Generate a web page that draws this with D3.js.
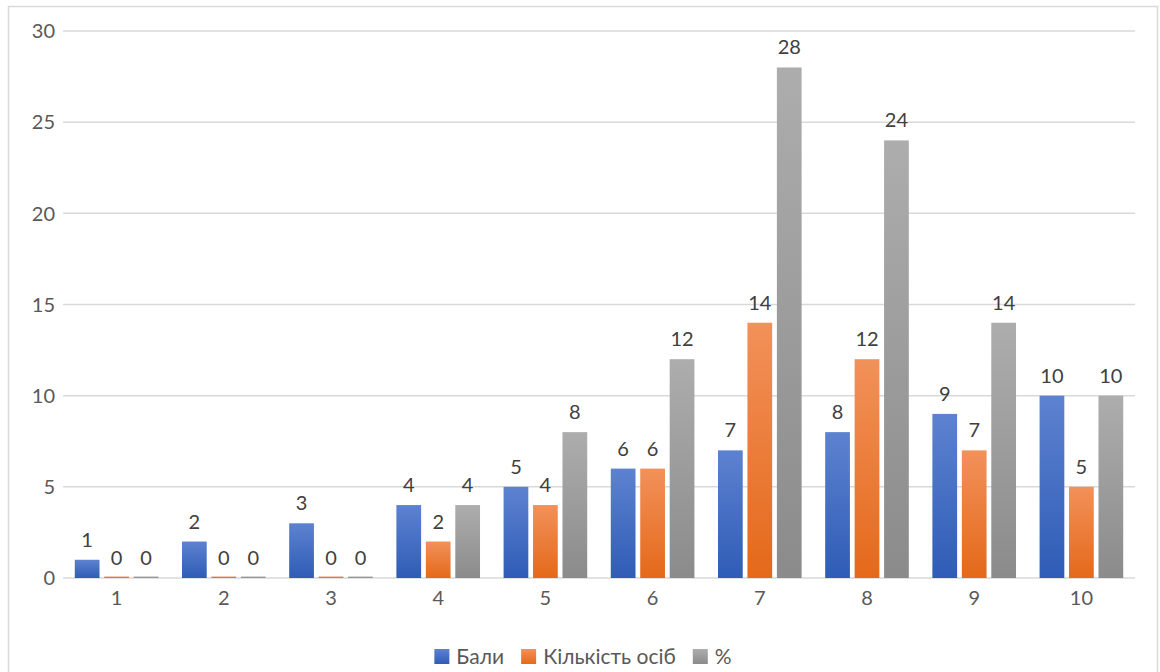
<!DOCTYPE html>
<html><head><meta charset="utf-8">
<script src="https://cdn.jsdelivr.net/npm/d3@7"></script>
<style>body{margin:0;background:#fff}svg{display:block;font-family:Lato,"Open Sans",sans-serif}</style>
</head><body><svg id="c" width="1160" height="672"></svg>
<script>
const categories = ["1","2","3","4","5","6","7","8","9","10"];
const seriesNames = ["Бали","Кількість осіб","%"];
const bali = [1,2,3,4,5,6,7,8,9,10];
const persons = [0,0,0,2,4,6,14,12,7,5];
const percent = [0,0,0,4,8,12,28,24,14,10];
const yTicks = [0,5,10,15,20,25,30];

const svg = d3.select("#c");
const m={l:63,r:1135,t:31,b:578};
const colors=[["#5d82d0","#2f5cb6"],["#f2915a","#e4691a"],["#adadad","#8b8b8b"]];
const defs=svg.append("defs");
colors.forEach((c,i)=>{
  const g=defs.append("linearGradient").attr("id","g"+i).attr("x1",0).attr("y1",0).attr("x2",0).attr("y2",1);
  g.append("stop").attr("offset",0).attr("stop-color",c[0]);
  g.append("stop").attr("offset",1).attr("stop-color",c[1]);
});
svg.append("rect").attr("x",8.5).attr("y",6.5).attr("width",1149).attr("height",680).attr("fill","#fff").attr("stroke","#d9d9d9").attr("stroke-width",1.5);

const x=d3.scaleBand().domain(categories).range([m.l,m.r]).paddingInner(0).paddingOuter(0);
const y=d3.scaleLinear().domain([0,30]).range([m.b,m.t]);
const xs=d3.scaleBand().domain(d3.range(3)).range([0,x.bandwidth()]).paddingInner(0.16).paddingOuter(0.4);

svg.append("g").selectAll("line").data(yTicks).join("line")
 .attr("x1",m.l).attr("x2",m.r).attr("y1",d=>y(d)).attr("y2",d=>y(d))
 .attr("stroke","#d9d9d9").attr("stroke-width",1.5);
svg.append("g").selectAll("text").data(yTicks).join("text")
 .attr("x",55).attr("y",d=>y(d)).attr("dy","0.36em").attr("text-anchor","end")
 .attr("fill","#595959").style("font-size","20px").text(d=>d);
svg.append("g").selectAll("text").data(categories).join("text")
 .attr("x",d=>x(d)+x.bandwidth()/2).attr("y",605).attr("text-anchor","middle")
 .attr("fill","#595959").style("font-size","20px").text(d=>d);

const all=[bali,persons,percent];
all.forEach((arr,si)=>{
  const g=svg.append("g");
  g.selectAll("rect").data(arr).join("rect")
   .attr("x",(d,i)=>x(categories[i])+xs(si)).attr("width",xs.bandwidth())
   .attr("y",d=>Math.min(y(d),y(0)-1.5)).attr("height",d=>Math.max(1.5,y(0)-y(d)))
   .attr("fill",`url(#g${si})`);
  g.selectAll("text").data(arr).join("text")
   .attr("x",(d,i)=>x(categories[i])+xs(si)+xs.bandwidth()/2)
   .attr("y",d=>y(d)-13).attr("text-anchor","middle")
   .attr("fill","#404040").style("font-size","20px").text(d=>d);
});

// legend
const leg=svg.append("g");
const items=[];
let lx=0;
const fs="21px";
const tmp=svg.append("text").style("font-size",fs);
seriesNames.forEach((n,i)=>{tmp.text(n);const w=tmp.node().getComputedTextLength();items.push({n,i,x:lx});lx+=15+7+w+17;});
tmp.remove();
const total=lx-17;
const lx0=583-total/2;
items.forEach(it=>{
  leg.append("rect").attr("x",lx0+it.x).attr("y",649).attr("width",15).attr("height",15).attr("fill",`url(#g${it.i})`);
  leg.append("text").attr("x",lx0+it.x+22).attr("y",656.5).attr("dy","0.36em").attr("fill","#595959").style("font-size",fs).text(it.n);
});
</script></body></html>
